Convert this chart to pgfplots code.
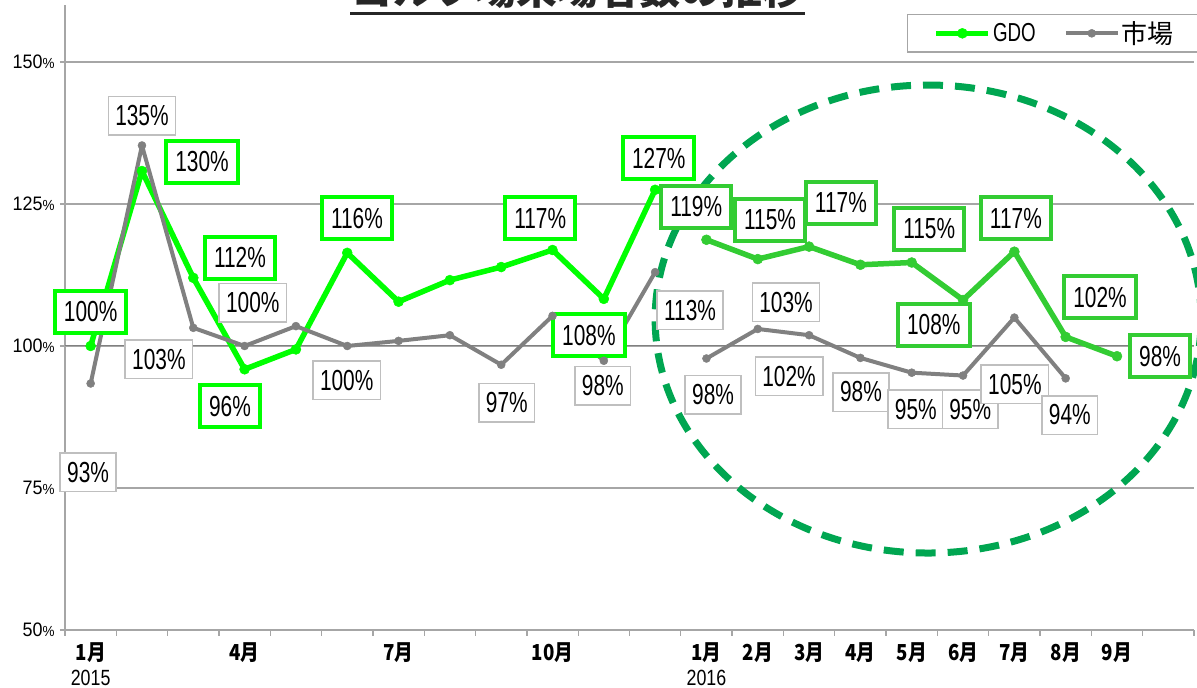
\documentclass[border=0pt]{standalone}
\usepackage{fontspec}
\usepackage{graphicx}
\usepackage{pgfplots}
\pgfplotsset{compat=1.18}
\setmainfont{Liberation Sans}
\newfontfamily\lab{Liberation Sans}[FakeStretch=0.72]
\newfontfamily\ytf{Liberation Sans}[FakeStretch=0.92]
\newfontfamily\yrf{Liberation Sans}[FakeStretch=0.81]
\newfontfamily\jp{Noto Sans CJK JP}[FakeStretch=0.85]
\newfontfamily\jpt{Noto Sans CJK JP}
\definecolor{gdoA}{RGB}{0,255,0}
\definecolor{gdoB}{RGB}{51,204,51}
\definecolor{mkt}{RGB}{128,128,128}
\definecolor{ell}{RGB}{0,166,81}
\definecolor{gbox}{RGB}{191,191,191}
\definecolor{gridc}{RGB}{166,166,166}
\tikzset{
  gA/.style={draw=gdoA, line width=4pt, fill=white, inner xsep=9pt, inner ysep=1pt, minimum height=42pt, font=\lab\fontsize{29}{30}\selectfont, text=black},
  gB/.style={gA, draw=gdoB},
  mk/.style={draw=gbox, line width=1.5pt, fill=white, inner xsep=7pt, inner ysep=1pt, minimum height=38.5pt, font=\lab\fontsize{29}{30}\selectfont, text=black},
}
\begin{document}
\begin{tikzpicture}
\begin{axis}[
  at={(0pt,0pt)}, anchor=south west,
  scale only axis, width=1129pt, height=624.8pt,
  xmin=-0.5, xmax=21.5, ymin=50, ymax=160,
  axis x line*=bottom, axis y line*=left,
  axis line style={gridc, line width=1.3pt},
  ytick={50,75,100,125,150},
  yticklabels={50\scalebox{0.75}{\%},75\scalebox{0.75}{\%},100\scalebox{0.75}{\%},125\scalebox{0.75}{\%},150\scalebox{0.75}{\%}},
  yticklabel style={font=\ytf\fontsize{19.5}{20}\selectfont, text=black, xshift=-2pt},
  ymajorgrids, grid style={gridc, line width=1.3pt},
  xtick={0,3,6,9,12,13,14,15,16,17,18,19,20},
  xticklabels={{\bfseries 1月\\\yrf 2015},\bfseries 4月,\bfseries 7月,\bfseries 10月,{\bfseries 1月\\\yrf 2016},\bfseries 2月,\bfseries 3月,\bfseries 4月,\bfseries 5月,\bfseries 6月,\bfseries 7月,\bfseries 8月,\bfseries 9月},
  xticklabel style={align=center, font=\jp\fontsize{22}{25}\selectfont, text=black, yshift=-4pt},
  minor xtick={-0.5,0.5,...,21.5},
  major x tick style={draw=none},
  tick align=outside,
  major tick length=5pt, minor tick length=6pt,
  tick style={gridc, line width=1.3pt},
  clip=false,
  legend columns=2,
  legend style={at={(0.7458,0.986)}, anchor=north west, draw=gridc, line width=1.3pt,
     inner xsep=26pt, inner ysep=5pt, font=\fontsize{26}{28}\selectfont,
     /tikz/every even column/.append style={column sep=26pt}},
  legend image code/.code={\draw[#1, mark repeat=2, mark phase=2] plot coordinates {(0pt,0pt) (26pt,0pt) (52pt,0pt)};},
]
\draw[mkt, line width=1pt] (axis cs:-0.5,100) -- (axis cs:21.5,100);
\addplot[gdoA, line width=5.5pt, line join=round, mark=*, mark size=5pt, mark options={line width=0.5pt}]
  coordinates {(0,100)(1,130.8)(2,112)(3,95.9)(4,99.4)(5,116.4)(6,107.8)(7,111.6)(8,113.9)(9,116.9)(10,108.3)(11,127.5)};
\addlegendentry{\lab GDO}
\addplot[mkt, line width=4pt, line join=round, mark=*, mark size=4pt, mark options={line width=0.5pt}]
  coordinates {(0,93.4)(1,135.3)(2,103.2)(3,100)(4,103.5)(5,100)(6,100.9)(7,101.9)(8,96.7)(9,105.3)(10,97.4)(11,113)};
\addlegendentry{\jpt 市場}
\addplot[gdoB, line width=5.5pt, line join=round, mark=*, mark size=5pt, mark options={line width=0.5pt}, forget plot]
  coordinates {(12,118.7)(13,115.3)(14,117.5)(15,114.3)(16,114.7)(17,108.1)(18,116.6)(19,101.6)(20,98.2)};
\addplot[mkt, line width=4pt, line join=round, mark=*, mark size=4pt, mark options={line width=0.5pt}, forget plot]
  coordinates {(12,97.8)(13,103)(14,101.9)(15,97.9)(16,95.3)(17,94.8)(18,105)(19,94.3)};
\draw[ell, line width=7pt, dash pattern=on 20pt off 12pt] (axis cs:16.32,104.75) ellipse [x radius=273pt, y radius=234pt];
% GDO 2015 labels
\node[gA] at (axis cs:0.0,106.0) {100\%};
\node[gA] at (axis cs:2.17,132.4) {130\%};
\node[gA] at (axis cs:2.91,115.5) {112\%};
\node[gA] at (axis cs:2.715,89.4) {96\%};
\node[gA] at (axis cs:5.19,122.5) {116\%};
\node[gA] at (axis cs:8.76,122.5) {117\%};
\node[gA] at (axis cs:9.71,101.9) {108\%};
\node[gA] at (axis cs:11.07,133.1) {127\%};
% market 2015 labels
\node[mk] at (axis cs:-0.05,77.8) {93\%};
\node[mk] at (axis cs:1.0,140.5) {135\%};
\node[mk] at (axis cs:1.33,97.7) {103\%};
\node[mk] at (axis cs:3.16,107.6) {100\%};
\node[mk] at (axis cs:4.99,94.0) {100\%};
\node[mk] at (axis cs:8.11,90.0) {97\%};
\node[mk] at (axis cs:9.98,93.0) {98\%};
\node[mk] at (axis cs:11.68,106.3) {113\%};
% market 2016 labels
\node[mk] at (axis cs:12.13,91.4) {98\%};
\node[mk] at (axis cs:13.55,107.7) {103\%};
\node[mk] at (axis cs:13.61,94.7) {102\%};
\node[mk] at (axis cs:15.01,91.9) {98\%};
\node[mk] at (axis cs:16.08,88.9) {95\%};
\node[mk] at (axis cs:17.14,88.9) {95\%};
\node[mk] at (axis cs:18.01,93.3) {105\%};
\node[mk] at (axis cs:19.08,87.85) {94\%};
% GDO 2016 labels
\node[gB] at (axis cs:11.80,124.5) {119\%};
\node[gB] at (axis cs:13.24,122.2) {115\%};
\node[gB] at (axis cs:14.62,125.2) {117\%};
\node[gB] at (axis cs:16.34,120.6) {115\%};
\node[gB] at (axis cs:18.03,122.5) {117\%};
\node[gB] at (axis cs:16.43,103.7) {108\%};
\node[gB] at (axis cs:19.67,108.6) {102\%};
\node[gB] at (axis cs:20.84,98.2) {98\%};
\end{axis}
\node[anchor=base, font=\jpt\bfseries\fontsize{41}{41}\selectfont, text=black!85] at (513pt,625pt) {ゴルフ場来場者数の推移};
\draw[black!85, line width=2.7pt] (285pt,616.7pt) -- (740pt,616.7pt);
\pgfresetboundingbox
\useasboundingbox (-65pt,-58pt) rectangle (1132pt,630pt);
\end{tikzpicture}
\end{document}
